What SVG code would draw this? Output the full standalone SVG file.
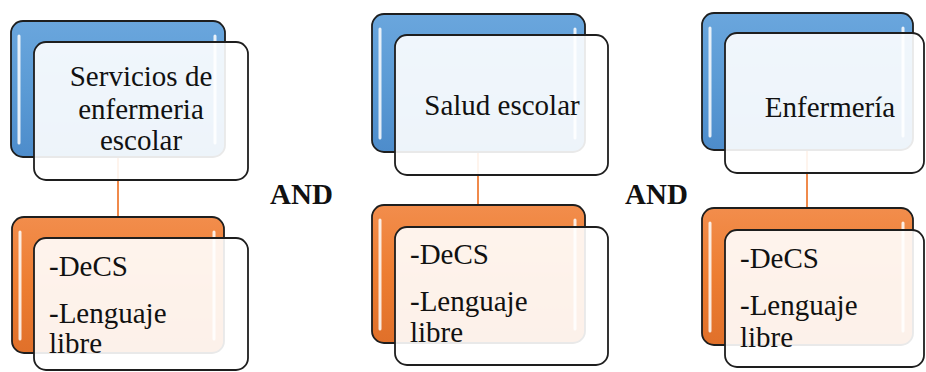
<svg xmlns="http://www.w3.org/2000/svg" width="926" height="372" viewBox="0 0 926 372">
<defs>
<linearGradient id="gBlue" x1="0" y1="0" x2="0" y2="1">
<stop offset="0" stop-color="#6aa6dd"/>
<stop offset="0.5" stop-color="#5b9bd5"/>
<stop offset="1" stop-color="#4d8ccb"/>
</linearGradient>
<linearGradient id="gOrange" x1="0" y1="0" x2="0" y2="1">
<stop offset="0" stop-color="#f28d4c"/>
<stop offset="0.5" stop-color="#ed7d31"/>
<stop offset="1" stop-color="#e0702a"/>
</linearGradient>
<style>
.back{stroke:#1e1e1e;stroke-width:1.8}
.blue{fill:url(#gBlue)}
.orange{fill:url(#gOrange)}
.front{fill:#ffffff;fill-opacity:0.9;stroke:#1e1e1e;stroke-width:1.8}
.hl{stroke:#ffffff;stroke-width:3;stroke-linecap:round;opacity:0.85}
.conn{stroke:#f08a4b;stroke-width:2;fill:none}
text{font-family:"Liberation Serif","Times New Roman",Tinos,Times,"DejaVu Serif","Noto Serif",FreeSerif,serif;font-size:29px;fill:#111111}
.c{text-anchor:middle}
.and{font-weight:bold}
</style>
</defs>
<rect width="926" height="372" fill="#ffffff"/>
<g id="connectors">
<line class="conn" x1="118" y1="157" x2="118" y2="217"/>
<line class="conn" x1="478" y1="152" x2="478" y2="205"/>
<line class="conn" x1="807" y1="150" x2="807" y2="208"/>
</g>
<g id="node-servicios">
<rect class="back blue" x="11" y="21" width="214" height="136" rx="12"/>
<line class="hl" x1="19" y1="36" x2="19" y2="143"/>
<line class="hl" x1="215" y1="36" x2="215" y2="143"/>
<rect class="front" x="34" y="42" width="214" height="138" rx="12"/>
<text class="c" x="141" y="86">Servicios de</text>
<text class="c" x="141" y="119">enfermeria</text>
<text class="c" x="141" y="150">escolar</text>
</g>
<g id="node-decs-1">
<rect class="back orange" x="12" y="217" width="212" height="136" rx="12"/>
<line class="hl" x1="20" y1="232" x2="20" y2="339"/>
<line class="hl" x1="214" y1="232" x2="214" y2="339"/>
<rect class="front" x="34" y="238" width="214" height="132" rx="12"/>
<text x="49" y="276">-DeCS</text>
<text x="49" y="323">-Lenguaje</text>
<text x="49" y="353">libre</text>
</g>
<text id="and-1" class="and" x="270" y="204">AND</text>
<g id="node-salud">
<rect class="back blue" x="372" y="14" width="213" height="138" rx="12"/>
<line class="hl" x1="380" y1="29" x2="380" y2="138"/>
<line class="hl" x1="575" y1="29" x2="575" y2="138"/>
<rect class="front" x="395" y="35" width="213" height="140" rx="12"/>
<text class="c" x="502" y="115">Salud escolar</text>
</g>
<g id="node-decs-2">
<rect class="back orange" x="372" y="205" width="213" height="138" rx="12"/>
<line class="hl" x1="380" y1="220" x2="380" y2="329"/>
<line class="hl" x1="575" y1="220" x2="575" y2="329"/>
<rect class="front" x="395" y="227" width="213" height="138" rx="12"/>
<text x="410" y="264">-DeCS</text>
<text x="410" y="311">-Lenguaje</text>
<text x="410" y="342">libre</text>
</g>
<text id="and-2" class="and" x="625" y="204">AND</text>
<g id="node-enfermeria">
<rect class="back blue" x="702" y="13" width="211" height="137" rx="12"/>
<line class="hl" x1="710" y1="28" x2="710" y2="136"/>
<line class="hl" x1="903" y1="28" x2="903" y2="136"/>
<rect class="front" x="725" y="33" width="199" height="140" rx="12"/>
<text class="c" x="830" y="117">Enfermería</text>
</g>
<g id="node-decs-3">
<rect class="back orange" x="702" y="208" width="211" height="137" rx="12"/>
<line class="hl" x1="710" y1="223" x2="710" y2="331"/>
<line class="hl" x1="903" y1="223" x2="903" y2="331"/>
<rect class="front" x="725" y="230" width="199" height="137" rx="12"/>
<text x="740" y="268">-DeCS</text>
<text x="740" y="315">-Lenguaje</text>
<text x="740" y="347">libre</text>
</g>
</svg>
